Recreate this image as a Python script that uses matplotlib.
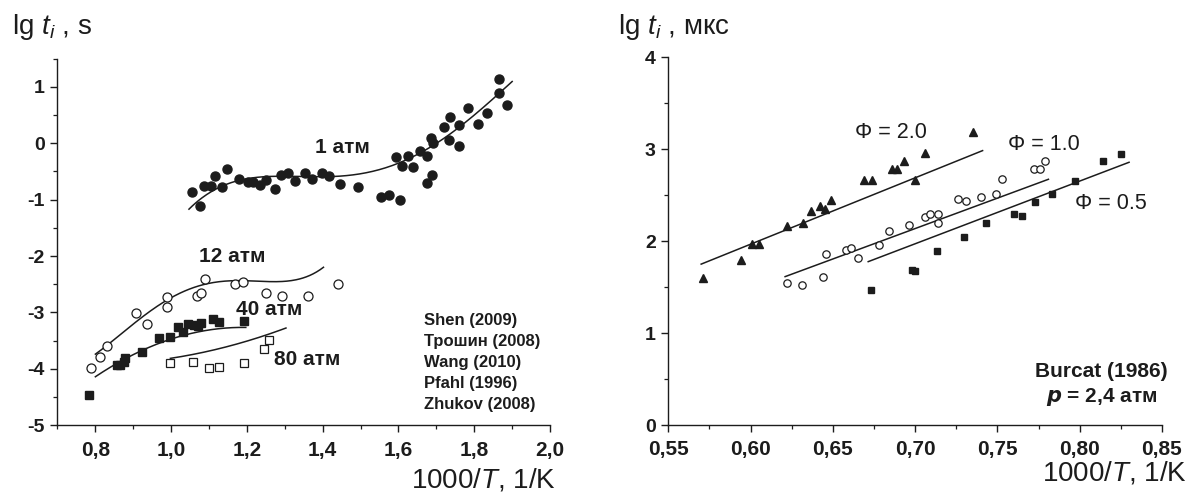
import numpy as np
import matplotlib
matplotlib.use("Agg")
import matplotlib.pyplot as plt
from matplotlib.ticker import MultipleLocator, FuncFormatter

plt.rcParams['font.family'] = ['Liberation Sans', 'DejaVu Sans']
plt.rcParams['mathtext.fontset'] = 'custom'
plt.rcParams['mathtext.rm'] = 'Liberation Sans'
plt.rcParams['mathtext.it'] = 'Liberation Sans:italic'
plt.rcParams['mathtext.bf'] = 'Liberation Sans:bold'
plt.rcParams['axes.unicode_minus'] = False

INK = '#1c1c1c'

# ---------------- left panel data ----------------
atm1_x = [1.056, 1.075, 1.086, 1.106, 1.117, 1.135, 1.148, 1.179, 1.203, 1.215, 1.235, 1.250,
          1.274, 1.289, 1.309, 1.326, 1.353, 1.371, 1.398, 1.417, 1.446, 1.494, 1.554, 1.574,
          1.594, 1.604, 1.609, 1.625, 1.638, 1.658, 1.676, 1.676, 1.688, 1.686, 1.691, 1.720,
          1.733, 1.737, 1.761, 1.761, 1.783, 1.811, 1.834, 1.865, 1.865, 1.887]
atm1_y = [-0.87, -1.11, -0.75, -0.75, -0.58, -0.78, -0.46, -0.63, -0.68, -0.68, -0.74, -0.65,
          -0.81, -0.56, -0.52, -0.67, -0.53, -0.63, -0.52, -0.58, -0.73, -0.78, -0.96, -0.91,
          -0.24, -1.01, -0.40, -0.23, -0.42, -0.13, -0.23, -0.71, -0.56, 0.09, 0.00, 0.29,
          0.06, 0.47, 0.33, -0.05, 0.63, 0.34, 0.54, 1.14, 0.89, 0.68]
atm1_fit_x = [1.047, 1.131, 1.201, 1.289, 1.378, 1.439, 1.501, 1.554, 1.589, 1.677, 1.766, 1.854, 1.900]
atm1_fit_y = [-1.13, -0.86, -0.62, -0.53, -0.56, -0.59, -0.58, -0.46, -0.40, -0.12, 0.36, 0.83, 1.07]

atm12_x = [0.789, 0.811, 0.831, 0.908, 0.937, 0.988, 0.988, 1.069, 1.080, 1.089, 1.169, 1.190,
           1.250, 1.292, 1.361, 1.441]
atm12_y = [-3.99, -3.79, -3.60, -3.01, -3.21, -2.72, -2.91, -2.71, -2.65, -2.40, -2.50, -2.46,
           -2.65, -2.70, -2.70, -2.50]
atm12_fit_x = [0.800, 0.857, 0.928, 0.990, 1.051, 1.122, 1.210, 1.298, 1.342, 1.402]
atm12_fit_y = [-3.74, -3.43, -3.08, -2.78, -2.55, -2.46, -2.46, -2.46, -2.37, -2.21]

atm40_x = [0.782, 0.858, 0.866, 0.875, 0.879, 0.924, 0.967, 0.996, 1.018, 1.030, 1.045, 1.060,
           1.070, 1.080, 1.110, 1.125, 1.193]
atm40_y = [-4.47, -3.93, -3.93, -3.88, -3.80, -3.70, -3.46, -3.44, -3.26, -3.34, -3.20, -3.22,
           -3.24, -3.19, -3.11, -3.17, -3.16]
atm40_fit_x = [0.800, 0.857, 0.919, 0.990, 1.078, 1.197]
atm40_fit_y = [-4.14, -3.91, -3.67, -3.49, -3.35, -3.26]

atm80_x = [0.998, 1.058, 1.100, 1.126, 1.192, 1.245, 1.258]
atm80_y = [-3.90, -3.88, -3.98, -3.97, -3.89, -3.65, -3.49]
atm80_fit_x = [0.998, 1.078, 1.166, 1.236, 1.303]
atm80_fit_y = [-3.82, -3.70, -3.58, -3.44, -3.27]

legend_left = ["Shen (2009)", "Трошин (2008)", "Wang (2010)", "Pfahl (1996)", "Zhukov (2008)"]

# ---------------- right panel data ----------------
phi20_x = [0.571, 0.594, 0.601, 0.605, 0.622, 0.632, 0.637, 0.642, 0.645, 0.649, 0.669, 0.674,
           0.686, 0.689, 0.693, 0.700, 0.706, 0.735]
phi20_y = [1.60, 1.80, 1.97, 1.97, 2.16, 2.20, 2.33, 2.38, 2.35, 2.45, 2.67, 2.67,
           2.78, 2.78, 2.87, 2.67, 2.96, 3.19]
phi20_fit_x = [0.570, 0.741]
phi20_fit_y = [1.75, 2.985]

phi10_x = [0.622, 0.631, 0.644, 0.646, 0.658, 0.661, 0.665, 0.678, 0.684, 0.696, 0.706, 0.709,
           0.714, 0.714, 0.726, 0.731, 0.740, 0.749, 0.753, 0.772, 0.776, 0.779]
phi10_y = [1.54, 1.52, 1.61, 1.86, 1.90, 1.93, 1.82, 1.96, 2.11, 2.18, 2.26, 2.30,
           2.30, 2.20, 2.46, 2.44, 2.48, 2.51, 2.68, 2.78, 2.78, 2.87]
phi10_fit_x = [0.621, 0.781]
phi10_fit_y = [1.614, 2.673]

phi05_x = [0.673, 0.698, 0.700, 0.713, 0.730, 0.743, 0.760, 0.765, 0.773, 0.783, 0.797, 0.814, 0.825]
phi05_y = [1.47, 1.69, 1.67, 1.89, 2.04, 2.20, 2.29, 2.27, 2.43, 2.51, 2.65, 2.87, 2.95]
phi05_fit_x = [0.6715, 0.830]
phi05_fit_y = [1.777, 2.858]


def smooth(xs, ys, deg):
    c = np.polyfit(xs, ys, deg)
    xx = np.linspace(min(xs), max(xs), 200)
    return xx, np.polyval(c, xx)


def comma_fmt(nd):
    def f(v, pos):
        return (f"{v:.{nd}f}").replace('.', ',')
    return FuncFormatter(f)


def style_axes(ax):
    for s in ('top', 'right'):
        ax.spines[s].set_visible(False)
    for s in ('left', 'bottom'):
        ax.spines[s].set_color(INK)
        ax.spines[s].set_linewidth(1.0)
    ax.tick_params(which='major', direction='out', length=5, width=1.0, color=INK)
    ax.tick_params(which='minor', direction='out', length=3, width=0.9, color=INK)
    ax.tick_params(axis='x', which='major', labelsize=15, pad=6, labelcolor=INK)
    ax.tick_params(axis='y', which='major', labelsize=14, pad=4, labelcolor=INK)
    for lab in ax.get_xticklabels() + ax.get_yticklabels():
        lab.set_fontweight('bold')


fig = plt.figure(figsize=(11.88, 5.0), dpi=100)
axL = fig.add_axes([0.0484, 0.1494, 0.4146, 0.7334])
axR = fig.add_axes([0.5625, 0.1500, 0.4156, 0.7354])

# ---- left ----
axL.set_xlim(0.7, 2.0)
axL.set_ylim(-5, 1.5)
axL.xaxis.set_minor_locator(MultipleLocator(0.1))
axL.yaxis.set_major_locator(MultipleLocator(1))
axL.yaxis.set_minor_locator(MultipleLocator(0.5))
axL.set_xticks([0.8, 1.0, 1.2, 1.4, 1.6, 1.8, 2.0])
axL.xaxis.set_major_formatter(comma_fmt(1))
axL.yaxis.set_major_formatter(FuncFormatter(lambda v, p: f"{int(round(v))}"))

axL.plot(atm1_x, atm1_y, 'o', ms=6.5, color=INK, mec=INK, zorder=3)
axL.plot(*smooth(atm1_fit_x, atm1_fit_y, 4), color=INK, lw=1.1)
axL.plot(atm12_x, atm12_y, 'o', ms=6.5, mfc='white', mec=INK, mew=0.9, zorder=3)
axL.plot(*smooth(atm12_fit_x, atm12_fit_y, 4), color=INK, lw=1.1)
axL.plot(atm40_x, atm40_y, 's', ms=6.0, color=INK, mec=INK, zorder=3)
axL.plot(*smooth(atm40_fit_x, atm40_fit_y, 2), color=INK, lw=1.1)
axL.plot(atm80_x, atm80_y, 's', ms=5.2, mfc='white', mec=INK, mew=0.9, zorder=3)
axL.plot(*smooth(atm80_fit_x, atm80_fit_y, 2), color=INK, lw=1.1)

lblkw = dict(fontsize=15, fontweight='bold', color=INK, va='center')
axL.text(1.453, -0.07, "1 атм", ha='center', **lblkw)
axL.text(1.160, -2.00, "12 атм", ha='center', **lblkw)
axL.text(1.170, -2.94, "40 атм", ha='left', **lblkw)
axL.text(1.271, -3.84, "80 атм", ha='left', **lblkw)

for i, name in enumerate(legend_left):
    axL.text(1.668, -3.14 - 0.375 * i, name, fontsize=12, fontweight='bold',
             color=INK, ha='left', va='center')

# ---- right ----
axR.set_xlim(0.55, 0.85)
axR.set_ylim(0, 4)
axR.set_xticks([0.55, 0.60, 0.65, 0.70, 0.75, 0.80, 0.85])
axR.xaxis.set_minor_locator(MultipleLocator(0.025))
axR.yaxis.set_major_locator(MultipleLocator(1))
axR.yaxis.set_minor_locator(MultipleLocator(0.5))
axR.xaxis.set_major_formatter(comma_fmt(2))
axR.yaxis.set_major_formatter(FuncFormatter(lambda v, p: f"{int(round(v))}"))

axR.plot(phi20_x, phi20_y, '^', ms=6.3, color=INK, mec=INK, zorder=3)
axR.plot(phi20_fit_x, phi20_fit_y, color=INK, lw=1.1)
axR.plot(phi10_x, phi10_y, 'o', ms=5.3, mfc='white', mec=INK, mew=0.9, zorder=3)
axR.plot(phi10_fit_x, phi10_fit_y, color=INK, lw=1.1)
axR.plot(phi05_x, phi05_y, 's', ms=3.8, color=INK, mec=INK, zorder=3)
axR.plot(phi05_fit_x, phi05_fit_y, color=INK, lw=1.1)

phikw = dict(fontsize=15.5, color=INK, va='center', ha='left')
axR.text(0.6635, 3.18, "Φ = 2.0", **phikw)
axR.text(0.7563, 3.05, "Φ = 1.0", **phikw)
axR.text(0.7970, 2.41, "Φ = 0.5", **phikw)
axR.text(0.8133, 0.58, "Burcat (1986)", fontsize=15, fontweight='bold', color=INK,
         ha='center', va='center')
axR.text(0.8133, 0.31, r"$\mathbfit{p}$ = 2,4 атм", fontsize=15, fontweight='bold', color=INK,
         ha='center', va='center')

style_axes(axL)
style_axes(axR)

# axis titles
fig.text(12 / 1188, 1 - 27 / 500, r"lg $t_i$ , s", fontsize=20, color=INK, ha='left', va='center')
fig.text(618 / 1188, 1 - 27 / 500, r"lg $t_i$ , мкс", fontsize=20, color=INK, ha='left', va='center')
fig.text(556 / 1188, 1 - 480 / 500, r"1000/$T$, 1/K", fontsize=20, color=INK, ha='right', va='center')
fig.text(1187 / 1188, 1 - 473 / 500, r"1000/$T$, 1/K", fontsize=20, color=INK, ha='right', va='center')

fig.savefig("out.png", dpi=100, facecolor='white')
